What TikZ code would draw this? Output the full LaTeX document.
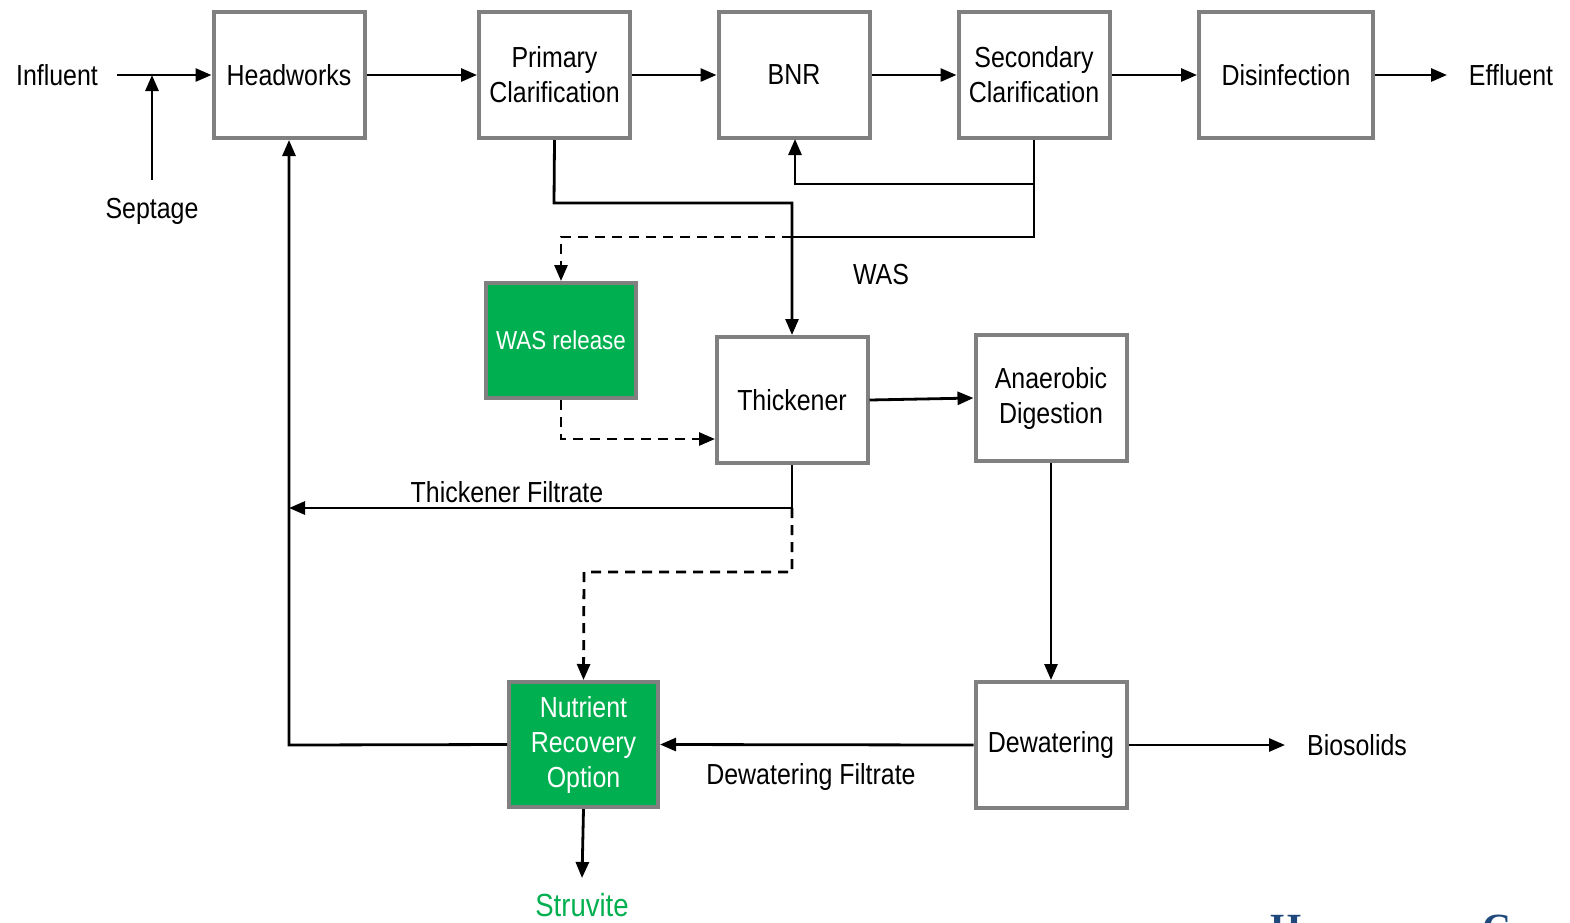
\documentclass[tikz,border=0pt]{standalone}
\usepackage{fontspec}
\setmainfont{Liberation Sans}[FakeStretch=0.86]
\newfontfamily\logofont{Liberation Serif}
\usetikzlibrary{arrows.meta}
\definecolor{boxgray}{RGB}{128,128,128}
\definecolor{nrgreen}{RGB}{0,176,80}
\definecolor{logoblue}{RGB}{31,73,125}
\begin{document}
\begin{tikzpicture}[x=1pt,y=-1pt,
  txt/.style={font=\fontsize{29}{35}\selectfont, inner sep=2pt, align=center},
  box/.style={txt, draw=boxgray, line width=4pt, fill=white, minimum width=151pt, minimum height=126pt, inner sep=0pt},
  greenbox/.style={box, fill=nrgreen, text=white},
  conn/.style={line width=2.8pt},
  flow/.style={conn, -{Triangle[length=16pt,width=13pt]}},
  dflow/.style={flow, dash pattern=on 10pt off 7pt},
  dline/.style={conn, dash pattern=on 10pt off 7pt}]
\useasboundingbox (0,0) rectangle (1570,922);
\fill[white] (0,0) rectangle (1570,922);
% top row
\node[box] (hw) at (289,75) {Headworks};
\node[box] (pc) at (554.5,75) {Primary\\Clarification};
\node[box] (bnr) at (794,75) {BNR};
\node[box] (sc) at (1034,75) {Secondary\\Clarification};
\node[box, minimum width=174pt] (dis) at (1286,75) {Disinfection};
% middle / bottom
\node[greenbox, minimum width=150pt, minimum height=115pt, font=\fontsize{26}{30}\selectfont] (was) at (561,340.5) {WAS release};
\node[box] (th) at (792,400) {Thickener};
\node[box] (ad) at (1051,398) {Anaerobic\\Digestion};
\node[box] (dw) at (1051,745) {Dewatering};
\node[greenbox, minimum width=149pt, minimum height=125pt, font=\fontsize{29}{35}\selectfont] (nr) at (583.5,744.5) {Nutrient\\Recovery\\Option};
% labels
\node[txt] (inf) at (57,75) {Influent};
\node[txt] (sep) at (152,211) {Septage};
\node[txt] (eff) at (1511,75) {Effluent};
\node[txt] (bio) at (1357,745) {Biosolids};
\node[txt] (waslbl) at (881,275) {WAS};
\node[txt] (tflbl) at (507,492) {Thickener Filtrate};
\node[txt] (dflbl) at (811,777) {Dewatering Filtrate};
\node[txt, text=nrgreen, font=\fontsize{32}{36}\selectfont] (struv) at (582,905) {Struvite};
\node[anchor=north, inner sep=0pt, font=\logofont\bfseries\fontsize{40}{40}\selectfont, text=logoblue] (logoh) at (1286,915) {H};
\node[anchor=north, inner sep=0pt, font=\logofont\bfseries\fontsize{40}{40}\selectfont, text=logoblue] (logoc) at (1497,915) {C};
% free ends
\coordinate (inftail) at (117,75);
\coordinate (septop) at (152,180);
\coordinate (sepjoin) at (152,75);
\coordinate (efftip) at (1447,75);
\coordinate (biotip) at (1285,745);
\coordinate (stip) at (582,878);
% main line arrows
\draw[flow] (inftail) -- (hw.west);
\draw[flow] (septop) -- (sepjoin);
\draw[flow] (hw.east) -- (pc.west);
\draw[flow] (pc.east) -- (bnr.west);
\draw[flow] (bnr.east) -- (sc.west);
\draw[flow] (sc.east) -- (dis.west);
\draw[flow] (dis.east) -- (efftip);
% return activated sludge
\draw[flow] (sc.south) -- (1034,184) -- (795,184) -- (795,139);
% primary sludge to thickener
\draw[flow] (pc.south) -- (554,203) -- (792,203) -- (th.north);
% WAS
\draw[conn] (sc.south) -- (1034,237) -- (792,237);
\draw[dflow] (792,237) -- (561,237) -- (was.north);
\draw[dflow] (was.south) -- (561,439) -- (715,439);
% thickener to digestion
\draw[flow] (th.east) -- (ad.west);
\draw[flow] (ad.south) -- (dw.north);
\draw[flow] (dw.east) -- (biotip);
\draw[flow] (dw.west) -- (nr.east);
% thickener filtrate
\draw[flow] (th.south) -- (792,508) -- (289,508);
\draw[dflow] (792,508) -- (792,572) -- (584,572) -- (nr.north);
% NR return to headworks
\draw[flow] (nr.west) -- (289,745) -- (hw.south);
\draw[flow] (nr.south) -- (stip);
\end{tikzpicture}
\end{document}
